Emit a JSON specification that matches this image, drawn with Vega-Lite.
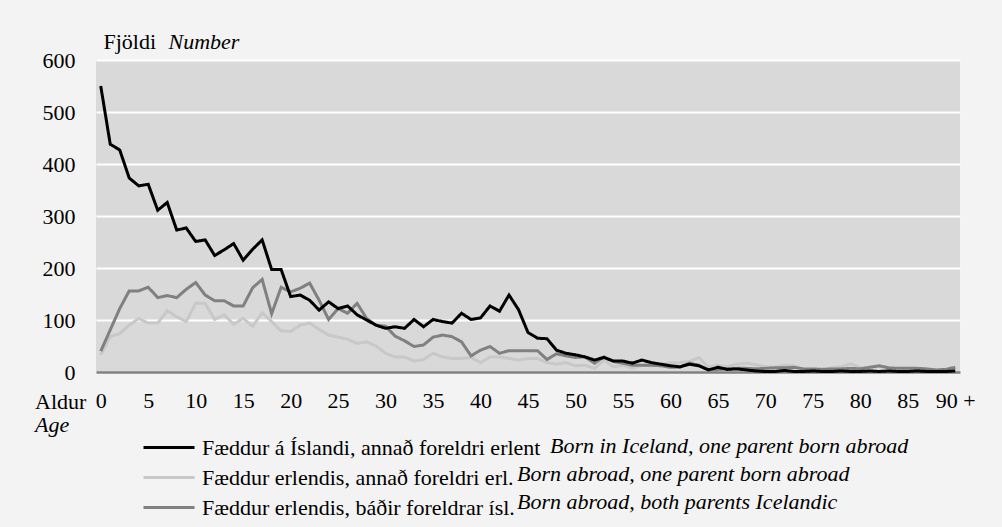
{
  "$schema": "https://vega.github.io/schema/vega-lite/v6.json",
  "width": 864,
  "height": 312,
  "autosize": {"type": "none"},
  "padding": {"left": 96, "top": 60, "right": 42, "bottom": 155},
  "background": "#f2f3f2",
  "config": {
    "view": {"fill": "#d9d9d9", "stroke": null},
    "font": "'Liberation Serif', 'Times New Roman', serif"
  },
  "title": {
    "text": "Aldur",
    "subtitle": "Age",
    "orient": "top",
    "anchor": "start",
    "frame": "group",
    "offset": 0,
    "dx": -61,
    "dy": 407,
    "font": "'Liberation Serif', 'Times New Roman', serif",
    "fontSize": 22,
    "fontWeight": "normal",
    "color": "#000000",
    "subtitleFont": "'Liberation Serif', 'Times New Roman', serif",
    "subtitleFontSize": 22,
    "subtitleFontStyle": "italic",
    "subtitleColor": "#000000",
    "subtitlePadding": 1
  },
  "data": {
    "values": [
      {"age": 0, "a": 550, "b": 33, "c": 40},
      {"age": 1, "a": 438, "b": 68, "c": 81},
      {"age": 2, "a": 427, "b": 74, "c": 122},
      {"age": 3, "a": 373, "b": 90, "c": 156},
      {"age": 4, "a": 358, "b": 103, "c": 156},
      {"age": 5, "a": 361, "b": 94, "c": 163},
      {"age": 6, "a": 311, "b": 94, "c": 143},
      {"age": 7, "a": 326, "b": 118, "c": 147},
      {"age": 8, "a": 273, "b": 106, "c": 143},
      {"age": 9, "a": 277, "b": 97, "c": 159},
      {"age": 10, "a": 251, "b": 132, "c": 172},
      {"age": 11, "a": 254, "b": 132, "c": 148},
      {"age": 12, "a": 224, "b": 101, "c": 137},
      {"age": 13, "a": 235, "b": 110, "c": 137},
      {"age": 14, "a": 247, "b": 92, "c": 127},
      {"age": 15, "a": 215, "b": 103, "c": 127},
      {"age": 16, "a": 236, "b": 88, "c": 162},
      {"age": 17, "a": 254, "b": 114, "c": 178},
      {"age": 18, "a": 197, "b": 97, "c": 112},
      {"age": 19, "a": 197, "b": 79, "c": 163},
      {"age": 20, "a": 145, "b": 78, "c": 154},
      {"age": 21, "a": 148, "b": 90, "c": 161},
      {"age": 22, "a": 138, "b": 94, "c": 171},
      {"age": 23, "a": 119, "b": 82, "c": 138},
      {"age": 24, "a": 135, "b": 71, "c": 101},
      {"age": 25, "a": 122, "b": 67, "c": 122},
      {"age": 26, "a": 127, "b": 63, "c": 113},
      {"age": 27, "a": 110, "b": 55, "c": 132},
      {"age": 28, "a": 100, "b": 58, "c": 103},
      {"age": 29, "a": 90, "b": 50, "c": 90},
      {"age": 30, "a": 84, "b": 36, "c": 88},
      {"age": 31, "a": 87, "b": 29, "c": 69},
      {"age": 32, "a": 84, "b": 29, "c": 60},
      {"age": 33, "a": 101, "b": 21, "c": 49},
      {"age": 34, "a": 87, "b": 24, "c": 52},
      {"age": 35, "a": 101, "b": 36, "c": 67},
      {"age": 36, "a": 97, "b": 29, "c": 71},
      {"age": 37, "a": 94, "b": 26, "c": 68},
      {"age": 38, "a": 113, "b": 26, "c": 58},
      {"age": 39, "a": 101, "b": 28, "c": 31},
      {"age": 40, "a": 104, "b": 18, "c": 42},
      {"age": 41, "a": 127, "b": 29, "c": 49},
      {"age": 42, "a": 117, "b": 29, "c": 36},
      {"age": 43, "a": 148, "b": 26, "c": 41},
      {"age": 44, "a": 120, "b": 23, "c": 41},
      {"age": 45, "a": 76, "b": 26, "c": 41},
      {"age": 46, "a": 65, "b": 26, "c": 41},
      {"age": 47, "a": 64, "b": 18, "c": 24},
      {"age": 48, "a": 42, "b": 15, "c": 35},
      {"age": 49, "a": 36, "b": 18, "c": 31},
      {"age": 50, "a": 33, "b": 12, "c": 28},
      {"age": 51, "a": 29, "b": 13, "c": 29},
      {"age": 52, "a": 23, "b": 7, "c": 17},
      {"age": 53, "a": 28, "b": 23, "c": 29},
      {"age": 54, "a": 21, "b": 10, "c": 20},
      {"age": 55, "a": 21, "b": 13, "c": 17},
      {"age": 56, "a": 17, "b": 7, "c": 13},
      {"age": 57, "a": 23, "b": 13, "c": 13},
      {"age": 58, "a": 18, "b": 12, "c": 13},
      {"age": 59, "a": 15, "b": 13, "c": 12},
      {"age": 60, "a": 12, "b": 18, "c": 9},
      {"age": 61, "a": 10, "b": 18, "c": 9},
      {"age": 62, "a": 15, "b": 20, "c": 17},
      {"age": 63, "a": 12, "b": 28, "c": 13},
      {"age": 64, "a": 4, "b": 9, "c": 4},
      {"age": 65, "a": 9, "b": 13, "c": 5},
      {"age": 66, "a": 5, "b": 10, "c": 6},
      {"age": 67, "a": 6, "b": 15, "c": 7},
      {"age": 68, "a": 4, "b": 17, "c": 7},
      {"age": 69, "a": 2, "b": 14, "c": 6},
      {"age": 70, "a": 1, "b": 10, "c": 7},
      {"age": 71, "a": 1, "b": 9, "c": 8},
      {"age": 72, "a": 3, "b": 13, "c": 8},
      {"age": 73, "a": 1, "b": 12, "c": 9},
      {"age": 74, "a": 1, "b": 4, "c": 6},
      {"age": 75, "a": 2, "b": 3, "c": 6},
      {"age": 76, "a": 1, "b": 2, "c": 5},
      {"age": 77, "a": 1, "b": 8, "c": 6},
      {"age": 78, "a": 2, "b": 10, "c": 6},
      {"age": 79, "a": 1, "b": 16, "c": 7},
      {"age": 80, "a": 1, "b": 8, "c": 6},
      {"age": 81, "a": 2, "b": 9, "c": 9},
      {"age": 82, "a": 1, "b": 11, "c": 12},
      {"age": 83, "a": 2, "b": 6, "c": 8},
      {"age": 84, "a": 1, "b": 5, "c": 7},
      {"age": 85, "a": 1, "b": 5, "c": 7},
      {"age": 86, "a": 2, "b": 4, "c": 7},
      {"age": 87, "a": 1, "b": 4, "c": 6},
      {"age": 88, "a": 1, "b": 3, "c": 4},
      {"age": 89, "a": 1, "b": 4, "c": 5},
      {"age": 90, "a": 2, "b": 6, "c": 9}
    ]
  },
  "transform": [
    {"fold": ["b", "c", "a"], "as": ["k", "n"]},
    {
      "lookup": "k",
      "from": {
        "data": {
          "values": [
            {"k": "a", "is": "Fæddur á Íslandi, annað foreldri erlent", "en": "Born in Iceland, one parent born abroad"},
            {"k": "b", "is": "Fæddur erlendis, annað foreldri erl.", "en": "Born abroad, one parent born abroad"},
            {"k": "c", "is": "Fæddur erlendis, báðir foreldrar ísl.", "en": "Born abroad, both parents Icelandic"}
          ]
        },
        "key": "k",
        "fields": ["is", "en"]
      }
    }
  ],
  "mark": {"type": "line", "strokeWidth": 3},
  "encoding": {
    "x": {
      "field": "age",
      "type": "quantitative",
      "scale": {"domain": [-0.5, 90.5], "nice": false, "zero": false},
      "axis": {
        "values": [0, 5, 10, 15, 20, 25, 30, 35, 40, 45, 50, 55, 60, 65, 70, 75, 80, 85, 90],
        "labelExpr": "datum.value == 90 ? '90 +' : datum.label",
        "grid": false,
        "ticks": false,
        "domain": true,
        "domainColor": "#808080",
        "domainWidth": 2.5,
        "labelFontSize": 22,
        "labelColor": "#000000",
        "labelPadding": 18,
        "labelFlush": false,
        "labelOverlap": false,
        "title": "Number",
        "titleFontSize": 22,
        "titleFontStyle": "italic",
        "titleFontWeight": "normal",
        "titleColor": "#000000",
        "titleX": 72,
        "titleY": -324,
        "titleAlign": "left",
        "titleBaseline": "alphabetic",
        "titleAngle": 0
      }
    },
    "y": {
      "field": "n",
      "type": "quantitative",
      "scale": {"domain": [0, 600], "nice": false},
      "axis": {
        "values": [0, 100, 200, 300, 400, 500, 600],
        "grid": true,
        "gridColor": "#ffffff",
        "gridWidth": 1.8,
        "domain": false,
        "ticks": false,
        "labelFontSize": 22,
        "labelColor": "#000000",
        "labelPadding": 21,
        "title": "Fjöldi",
        "titleFontSize": 22,
        "titleFontWeight": "normal",
        "titleColor": "#000000",
        "titleX": 7,
        "titleY": -12,
        "titleAlign": "left",
        "titleBaseline": "alphabetic",
        "titleAngle": 0
      }
    },
    "color": {
      "field": "is",
      "type": "nominal",
      "scale": {
        "domain": ["Fæddur á Íslandi, annað foreldri erlent", "Fæddur erlendis, annað foreldri erl.", "Fæddur erlendis, báðir foreldrar ísl."],
        "range": ["#000000", "#c8c8c8", "#808080"]
      },
      "legend": {
        "orient": "none",
        "legendX": 75,
        "legendY": 375,
        "direction": "vertical",
        "title": null,
        "padding": 0,
        "symbolType": "M-3.636,0H1",
        "symbolSize": 484,
        "symbolStrokeWidth": 3,
        "labelFontSize": 22,
        "labelColor": "#000000",
        "labelOffset": 6,
        "labelLimit": 700,
        "rowPadding": 6
      }
    },
    "strokeDash": {
      "field": "en",
      "type": "nominal",
      "scale": {
        "domain": ["Born in Iceland, one parent born abroad", "Born abroad, one parent born abroad", "Born abroad, both parents Icelandic"],
        "range": [[1, 0], [1, 0], [1, 0]]
      },
      "legend": {
        "orient": "none",
        "legendX": 399,
        "legendY": 375,
        "direction": "vertical",
        "title": null,
        "padding": 0,
        "symbolSize": 1,
        "symbolOpacity": 0,
        "symbolStrokeColor": "transparent",
        "labelExpr": "(indexof(datum.value, 'Iceland,') >= 0 ? '\u200b\u2003\u2002' : '') + datum.label",
        "labelFontSize": 22,
        "labelFontStyle": "italic",
        "labelColor": "#000000",
        "labelOffset": 0,
        "labelLimit": 700,
        "rowPadding": 6
      }
    }
  }
}
